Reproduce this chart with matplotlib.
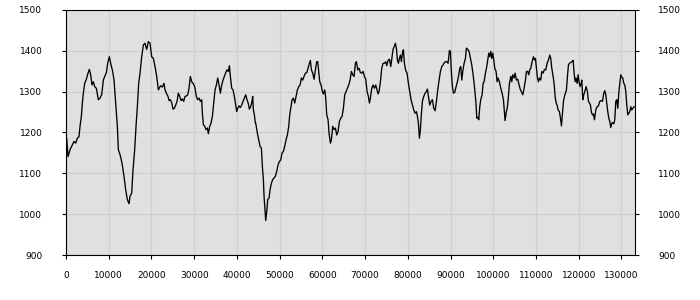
import matplotlib.pyplot as plt

# values
x = [156, 468, 937, 1483, 1873, 2263, 2653, 3043, 3277, 3590, 3824, 4058, 4370, 4760,
     5150, 5462, 5774, 6087, 6399, 6711, 7101, 7569, 7959, 8349, 8740, 9052, 9442, 9754,
     10144, 10456, 10924, 11236, 11627, 12017, 12251, 12641, 13109, 13577, 13968, 14358,
     14748, 14982, 15372, 15684, 16074, 16386, 16699, 17011, 17323, 17713, 18103, 18493,
     18883, 19274, 19664, 20054, 20444, 20834, 21224, 21615, 22005,
     22161, 22551, 22941, 23175, 23488, 23878, 24112, 24424, 24736, 25048, 25360, 25673,
     25985, 26297, 26609, 26921, 27233, 27545, 27857, 28169, 28482, 28794, 29106, 29418,
     29808, 30120, 30510, 30822, 31135, 31447, 31759, 31915, 32149, 32461, 32773, 33085,
     33319, 33632, 33944, 34256, 34568, 34880, 35192, 35504, 35816, 36129, 36441, 36753,
     37065, 37377, 37689, 38001, 38235, 38469, 38782, 39094, 39406, 39718, 39952, 40186,
     40498, 40810, 41122, 41435, 41747, 42059, 42371, 42683, 42917, 43229, 43463, 43697,
     43853, 44088, 44322,
     44401, 44791, 45103, 45415, 45728, 45962, 46196, 46352, 46586, 46742, 46976, 47210,
     47522, 47756, 48069, 48381, 48693, 49005, 49317, 49629, 49941, 50253, 50566, 50878,
     51190, 51502, 51814, 52126, 52360, 52594, 52907, 53219, 53531, 53843, 54155, 54467,
     54779, 55091, 55403, 55716, 56028, 56340, 56652, 56964, 57198, 57432, 57744, 58056,
     58369, 58681, 58915, 59149, 59383, 59695, 60007, 60241, 60553, 60787, 61022, 61334,
     61568, 61880, 62114, 62426, 62738, 63050, 63362, 63675, 63987, 64299, 64611, 64923,
     65235, 65547, 65859, 66172, 66484,
     66796, 67108, 67420, 67733, 67967, 68279, 68591, 68903, 69215, 69527, 69839, 70152,
     70464, 70776, 71010, 71244, 71556, 71868, 72180, 72492, 72805, 73039, 73273, 73585,
     73897, 74209, 74521, 74833, 75067, 75380, 75692, 76004, 76316, 76550, 76862, 77096,
     77330, 77564, 77798, 78033, 78267, 78501, 78735, 78969, 79203, 79515, 79827, 80139,
     80451, 80764, 81076, 81388, 81700, 82012, 82246, 82480, 82714, 82948, 83183, 83417,
     83729, 84041, 84353, 84587, 84821, 85133, 85445, 85758, 86070, 86382, 86694, 87006,
     87318, 87630, 87942, 88255, 88567, 88879,
     89114, 89426, 89738, 89973, 90207, 90441, 90675, 90987, 91299, 91611, 91923, 92157,
     92392, 92626, 92860, 93172, 93484, 93718, 94030, 94342, 94654, 94966, 95279, 95513,
     95747, 95981, 96137, 96371, 96605, 96839, 97073, 97385, 97620, 97854, 98166, 98478,
     98712, 98946, 99180, 99414, 99648, 99882, 100116, 100351, 100663, 100897, 101131,
     101443, 101755, 102067, 102379, 102613, 102769, 103004, 103316, 103550, 103784,
     104096, 104330, 104564, 104876, 105110, 105423, 105735, 106047, 106359, 106671,
     106905, 107217, 107529, 107763, 108076, 108310, 108544, 108778, 109090, 109402,
     109636, 109870, 110104, 110338, 110572, 110807, 111119,
     111353, 111665, 111978, 112290, 112602, 112914, 113226, 113460, 113694, 114006,
     114240, 114474, 114709, 114943, 115177, 115489, 115723, 115957, 116191, 116425,
     116659, 116893, 117127, 117362, 117596, 117830, 118142, 118454, 118688, 118922,
     119156, 119390, 119624, 119858, 120093, 120327, 120561, 120717, 120951, 121185,
     121419, 121731, 122043, 122277, 122512, 122746, 122980, 123214, 123448, 123682,
     123994, 124306, 124618, 124931, 125243, 125555, 125867, 126101, 126335, 126569,
     126803, 127037, 127271, 127506, 127740, 127974, 128208, 128442, 128676, 128910,
     129144, 129378, 129612, 129847, 130081, 130315, 130549, 130783, 131017, 131251,
     131485, 131719, 131954, 132188, 132422, 132656, 132968]

y = [1186, 1141, 1158, 1170, 1178, 1174, 1186, 1190, 1215, 1239, 1272, 1296, 1320, 1330,
     1345, 1354, 1341, 1316, 1324, 1312, 1308, 1280, 1284, 1292, 1328, 1337, 1346, 1369,
     1385, 1369, 1349, 1328, 1272, 1215, 1158, 1146, 1125, 1093, 1060, 1036,
     1026, 1044, 1052, 1109, 1158, 1215, 1263, 1320, 1345, 1385, 1414, 1418,
     1403, 1422, 1418, 1385, 1381, 1361, 1337, 1304, 1312,
     1314, 1311, 1320, 1304, 1296, 1288, 1278, 1280, 1273, 1257, 1259, 1267,
     1276, 1296, 1288, 1278, 1282, 1276, 1288, 1289, 1292, 1308, 1337, 1324,
     1319, 1312, 1288, 1280, 1284, 1276, 1280, 1247, 1219, 1215, 1207, 1211,
     1197, 1215, 1223, 1239, 1272, 1304, 1316, 1333, 1316, 1296, 1316, 1328,
     1337, 1346, 1353, 1349, 1363, 1337, 1308, 1304, 1288, 1267, 1251, 1259,
     1265, 1261, 1267, 1276, 1284, 1292, 1280, 1270, 1257, 1263, 1273, 1288,
     1255, 1243, 1223,
     1223, 1198, 1182, 1166, 1162, 1117, 1085, 1044, 1007, 985, 1007, 1036,
     1040, 1060, 1076, 1085, 1089, 1093, 1105, 1121, 1129, 1133, 1150, 1154,
     1166, 1182, 1194, 1215, 1243, 1259, 1280, 1284, 1272, 1288, 1304, 1312,
     1316, 1333, 1328, 1337, 1345, 1346, 1357, 1369, 1376, 1353, 1345, 1330,
     1353, 1373, 1373, 1349, 1324, 1316, 1300, 1294, 1304, 1284, 1243, 1231,
     1198, 1174, 1182, 1215, 1207, 1211, 1194, 1202, 1227, 1235, 1239, 1259,
     1292, 1300, 1308, 1316, 1328,
     1349, 1341, 1337, 1369, 1373, 1353, 1357, 1346, 1345, 1349, 1337, 1330,
     1300, 1288, 1272, 1284, 1308, 1316, 1308, 1316, 1304, 1294, 1300, 1324,
     1357, 1369, 1369, 1373, 1363, 1376, 1379, 1361, 1385, 1403, 1411, 1418,
     1406, 1377, 1369, 1381, 1389, 1373, 1394, 1402, 1369, 1351, 1345, 1320,
     1300, 1280, 1267, 1255, 1247, 1251, 1239, 1223, 1186, 1207, 1247, 1276,
     1288, 1296, 1300, 1306, 1288, 1267, 1276, 1280, 1259, 1253, 1276, 1304,
     1328, 1349, 1361, 1365, 1371, 1373,
     1373, 1369, 1400, 1398, 1345, 1312, 1296, 1298, 1312, 1324, 1341, 1357,
     1361, 1328, 1349, 1369, 1381, 1406, 1403, 1398, 1381, 1365, 1341, 1320,
     1296, 1267, 1235, 1237, 1231, 1263, 1280, 1292, 1320, 1324, 1345, 1361,
     1377, 1394, 1385, 1398, 1381, 1394, 1377, 1357, 1349, 1324, 1333,
     1324, 1308, 1296, 1280, 1251, 1229, 1247, 1263, 1288, 1320,
     1337, 1324, 1341, 1333, 1345, 1328, 1330, 1316, 1304, 1298,
     1292, 1308, 1328, 1349, 1349, 1341, 1353, 1357, 1373, 1385,
     1377, 1381, 1357, 1333, 1324, 1333, 1328,
     1349, 1345, 1354, 1353, 1369, 1377, 1389, 1381, 1357, 1337,
     1320, 1288, 1272, 1267, 1255, 1251, 1235, 1216, 1247, 1276,
     1288, 1296, 1304, 1337, 1365, 1369, 1371, 1373, 1376, 1345,
     1324, 1333, 1320, 1341, 1322, 1312, 1320, 1328, 1280, 1292,
     1300, 1312, 1300, 1276, 1272, 1267, 1249, 1243, 1245, 1231,
     1255, 1263, 1265, 1276, 1278, 1276, 1296, 1302, 1292, 1272,
     1251, 1235, 1227, 1212, 1223, 1224, 1221, 1231, 1276, 1280,
     1259, 1296, 1320, 1341, 1335, 1333, 1320, 1316, 1300, 1267,
     1243, 1247, 1251, 1263, 1255, 1259, 1263]

x_ticks = list(range(0, 130001, 10000))
y_ticks = list(range(900, 1501, 100))

fig = plt.figure(figsize=(7, 3), dpi=100)
ax = fig.add_axes([0.0943, 0.149, 0.8124, 0.8188])
ax.set_facecolor('#e0e0e0')

ax.plot(x, y, color='black', linewidth=0.95)

ax.set_xlim(0, 133100)
ax.set_ylim(900, 1500)
ax.set_xticks(x_ticks)
ax.set_yticks(y_ticks)
ax.grid(True, color='#d0d0d0', linewidth=0.9)
ax.set_axisbelow(True)

for s in ax.spines.values():
    s.set_color('black')
    s.set_linewidth(0.8)

ax.tick_params(axis='x', direction='out', length=3, width=0.8, labelsize=6.5, pad=8)
ax.tick_params(axis='y', direction='out', length=3, width=0.8, labelsize=6.5,
               left=True, right=True, labelleft=True, labelright=True, pad=14)

plt.savefig('out.png', dpi=100)
